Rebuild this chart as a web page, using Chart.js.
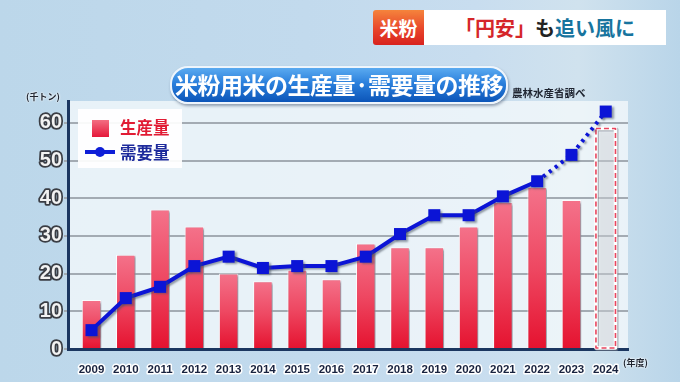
<!DOCTYPE html>
<html>
<head>
<meta charset="utf-8">
<script src="https://cdn.jsdelivr.net/npm/chart.js@4.4.1/dist/chart.umd.min.js"></script>
<style>
  html, body { margin:0; padding:0; }
  body { width:680px; height:382px; overflow:hidden; }
  #wrap { position:relative; width:680px; height:382px;
    background: linear-gradient(90deg, #bcd7ea 0%, #c2daed 45%, #c8ddef 70%, #d0e2ee 85%, #b9d5e9 100%); }
  #c { position:absolute; left:0; top:0; }
  .abs { position:absolute; font-family:"Noto Sans CJK JP","Noto Sans",sans-serif; font-weight:700; white-space:nowrap; }
  #tag { left:373px; top:10px; width:51px; height:35px; line-height:35px; text-align:center; color:#fff; font-size:19px;
    background:linear-gradient(180deg,#f5843c 0%,#e8452a 55%,#d8221e 100%); border-radius:3px 0 0 3px; }
  #head { left:424px; top:10px; width:242px; height:35px; line-height:35px; text-align:center; background:#fff; font-size:20px; color:#222; }
  #head .r { color:#d5262a; } #head .b { color:#17749e; }
  #title { left:170px; top:66px; width:334px; height:34px; line-height:33px; text-align:center; color:#fff; font-size:23px;
    border-radius:18px; border:2px solid #eef5fc; letter-spacing:-0.5px;
    background:linear-gradient(180deg,#5aaaf0 0%,#2a7fdc 45%,#0c55b8 100%);
    box-shadow:1px 2px 3px rgba(40,60,90,0.45); }
  #src { left:512px; top:85px; font-size:10.5px; color:#1e2430; }
  #unit { left:26px; top:90px; font-size:9px; color:#1e2430; text-shadow:0 0 2px #fff,0 0 2px #fff; }
  #nendo { left:623px; top:356px; font-size:9px; color:#1e2430; text-shadow:0 0 2px #fff,0 0 2px #fff; }
  #legend { left:78px; top:109px; width:104px; height:59px; background:rgba(255,255,255,0.92); }
  #lg1sq { position:absolute; left:14px; top:11px; width:17px; height:17px; background:linear-gradient(180deg,#f36e82,#e5183a); }
  #lg1tx { position:absolute; left:42px; top:6px; font-size:16.5px; color:#e11b34; line-height:24px; }
  #lg2ln { position:absolute; left:7px; top:41px; width:30px; height:4px; background:#0e1ed8; }
  #lg2pt { position:absolute; left:17px; top:38px; width:10px; height:10px; border-radius:5px; background:#0e1ed8; }
  #lg2tx { position:absolute; left:42px; top:31px; font-size:16.5px; color:#1d2a9c; line-height:24px; }
</style>
</head>
<body>
<div id="wrap">
  <canvas id="c" width="680" height="382"></canvas>
  <div class="abs" id="tag">米粉</div>
  <div class="abs" id="head"><span class="r">「円安」</span>も<span class="b">追い風に</span></div>
  <div class="abs" id="title">米粉用米の生産量·需要量の推移</div>
  <div class="abs" id="src">農林水産省調べ</div>
  <div class="abs" id="unit">(千トン)</div>
  <div class="abs" id="nendo">(年度)</div>
  <div class="abs" id="legend">
    <div id="lg1sq"></div><div id="lg1tx">生産量</div>
    <div id="lg2ln"></div><div id="lg2pt"></div><div id="lg2tx">需要量</div>
  </div>
</div>
<script>
// ---- data (千トン) ----
const years = ['2009','2010','2011','2012','2013','2014','2015','2016','2017','2018','2019','2020','2021','2022','2023','2024'];
const production = [13, 25, 37, 32.5, 20, 18, 21, 18.5, 28, 27, 27, 32.5, 39, 43, 39.5, 58.5];
const demand = [5, 13.5, 16.5, 22, 24.5, 21.5, 22, 22, 24.5, 30.5, 35.5, 35.5, 40.5, 44.5, 51.5, 63];
const yTicks = [0, 10, 20, 30, 40, 50, 60];
const planIndex = 15;      // 2024: planned (dashed bar)
const dottedFrom = 13;     // line dotted from 2022 onward

const AXIS = '#1b3660';
const GRID = '#a3abb3';

const prodPoints = production.map((v, i) => ({ x: i, y: v }));
const demandPoints = demand.map((v, i) => ({ x: i, y: v }));

function barFill(ctx) {
  const chart = ctx.chart;
  if (ctx.dataIndex === planIndex) return 'rgba(255,255,255,0.35)';
  const ys = chart.scales && chart.scales.y;
  if (!ys || !chart.chartArea) return '#ec3550';
  const v = production[ctx.dataIndex];
  const top = ys.getPixelForValue(v), bot = ys.getPixelForValue(0);
  if (!isFinite(top) || !isFinite(bot) || bot - top < 1) return '#ec3550';
  const g = chart.ctx.createLinearGradient(0, top, 0, bot);
  g.addColorStop(0, '#f4728a');
  g.addColorStop(0.5, '#ee4862');
  g.addColorStop(1, '#e5122f');
  return g;
}

const panelPlugin = {
  id: 'panel',
  beforeDraw(chart) {
    const a = chart.chartArea, c = chart.ctx;
    c.save();
    c.fillStyle = 'rgba(244,248,251,0.78)';
    c.fillRect(a.left, a.top, a.right - a.left, a.bottom - a.top);
    c.restore();
    c.lineJoin = 'round';
    c.miterLimit = 2;
  }
};

const shadowPlugin = {
  id: 'shadows',
  beforeDatasetDraw(chart, args) {
    const c = chart.ctx;
    c.save();
    c.shadowColor = 'rgba(70,80,95,0.55)';
    c.shadowOffsetX = 2; c.shadowOffsetY = 1.5; c.shadowBlur = 2;
  },
  afterDatasetDraw(chart, args) {
    const c = chart.ctx;
    c.restore();
    if (args.index === 0) {
      const el = args.meta.data[planIndex];
      if (!el) return;
      const p = el.getProps(['x', 'y', 'width', 'base'], true);
      const l = p.x - p.width / 2, w = p.width, t = p.y, h = p.base - p.y;
      c.save();
      c.strokeStyle = 'rgba(120,125,135,0.55)'; c.lineWidth = 4;
      c.strokeRect(l + 1, t + 1, w, h);
      c.strokeStyle = '#ffffff'; c.lineWidth = 3.5;
      c.strokeRect(l, t, w, h);
      c.strokeStyle = '#e8465f'; c.lineWidth = 1.6; c.setLineDash([5, 3]);
      c.strokeRect(l, t, w, h);
      c.restore();
    }
  }
};

new Chart(document.getElementById('c'), {
  data: {
    datasets: [
      {
        type: 'bar', label: '生産量', data: prodPoints, order: 2,
        backgroundColor: barFill,
        borderColor: ctx => ctx.dataIndex === planIndex ? 'rgba(0,0,0,0)' : 'rgba(255,255,255,0.85)',
        borderWidth: 1, borderSkipped: 'bottom',
        categoryPercentage: 1, barPercentage: 0.57
      },
      {
        type: 'line', label: '需要量', data: demandPoints, order: 1,
        borderColor: '#0b14d6', borderWidth: 4, tension: 0,
        pointStyle: 'rect', pointRadius: 8.5, pointBackgroundColor: '#0b14d6',
        pointBorderColor: '#0b14d6', pointBorderWidth: 0,
        segment: { borderDash: s => s.p0DataIndex >= dottedFrom ? [3, 4.5] : undefined }
      }
    ]
  },
  options: {
    responsive: false, devicePixelRatio: 1, animation: false,
    layout: { padding: { left: 0, top: 101, right: 52, bottom: 0 } },
    plugins: { legend: { display: false }, tooltip: { enabled: false } },
    scales: {
      x: {
        type: 'linear', min: -0.686, max: 15.65, offset: false,
        afterBuildTicks: s => { s.ticks = years.map((y, i) => ({ value: i })); },
        grid: { display: false, offset: false },
        border: { display: true, color: AXIS, width: 3 },
        ticks: {
          color: '#18223e', padding: 6, maxRotation: 0, autoSkip: false,
          callback: v => years[v],
          font: { family: 'Liberation Sans', weight: 'bold', size: 11.5 },
          textStrokeColor: '#ffffff', textStrokeWidth: 3
        },
        afterFit: s => { s.height = 33; }
      },
      y: {
        min: 0, max: 65.8,
        afterBuildTicks: s => { s.ticks = yTicks.map(v => ({ value: v })); },
        grid: { color: ctx => ctx.tick && ctx.tick.value === 0 ? 'rgba(0,0,0,0)' : GRID, lineWidth: 2, drawTicks: true, tickLength: 4, tickColor: GRID },
        border: { display: true, color: AXIS, width: 3 },
        ticks: {
          color: '#f2f2f2', padding: 2,
          font: { family: 'Liberation Sans', weight: 'bold', size: 20 },
          textStrokeColor: '#3a3d44', textStrokeWidth: 3.5
        },
        afterFit: s => { s.width = 68; }
      }
    }
  },
  plugins: [panelPlugin, shadowPlugin]
});
</script>
</body>
</html>
